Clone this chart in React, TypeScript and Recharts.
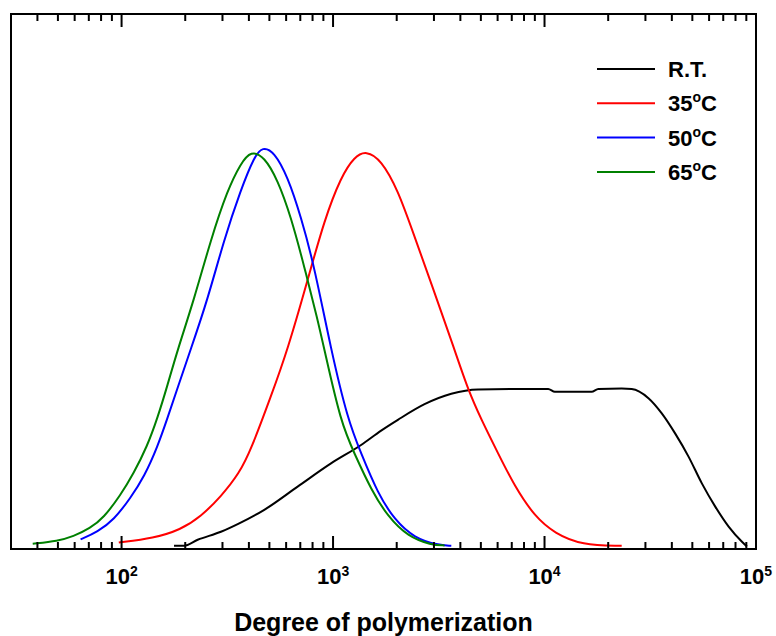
import React from 'react';
import { LineChart, Line, XAxis, YAxis, Legend, ReferenceArea, ReferenceLine } from 'recharts';

// GPC distributions vs. reaction temperature (degree of polymerization on log scale)
const rtCurve = [
  { dp: 177, w: 0.008 }, { dp: 197, w: 0.008 }, { dp: 229, w: 0.023 }, { dp: 295, w: 0.043 },
  { dp: 360, w: 0.064 }, { dp: 473, w: 0.098 }, { dp: 680, w: 0.156 }, { dp: 978, w: 0.214 },
  { dp: 1357, w: 0.26 }, { dp: 1688, w: 0.296 }, { dp: 2026, w: 0.323 }, { dp: 2708, w: 0.362 },
  { dp: 3624, w: 0.388 }, { dp: 4850, w: 0.399 }, { dp: 7232, w: 0.4 }, { dp: 10410, w: 0.4 },
  { dp: 11190, w: 0.393 }, { dp: 16700, w: 0.393 }, { dp: 17970, w: 0.4 }, { dp: 23170, w: 0.401 },
  { dp: 25840, w: 0.4 }, { dp: 31010, w: 0.377 }, { dp: 35850, w: 0.339 }, { dp: 41440, w: 0.289 },
  { dp: 47970, w: 0.231 }, { dp: 55460, w: 0.164 }, { dp: 64160, w: 0.106 }, { dp: 74240, w: 0.056 },
  { dp: 85830, w: 0.018 }, { dp: 90640, w: 0.006 },
];

const c35Curve = [
  { dp: 97, w: 0.016 }, { dp: 142, w: 0.027 }, { dp: 190, w: 0.048 }, { dp: 237, w: 0.081 },
  { dp: 295, w: 0.131 }, { dp: 360, w: 0.189 }, { dp: 409, w: 0.248 }, { dp: 508, w: 0.381 },
  { dp: 610, w: 0.498 }, { dp: 759, w: 0.673 }, { dp: 910, w: 0.823 }, { dp: 1091, w: 0.931 },
  { dp: 1262, w: 0.981 }, { dp: 1433, w: 0.996 }, { dp: 1688, w: 0.973 }, { dp: 2026, w: 0.898 },
  { dp: 2428, w: 0.781 }, { dp: 2913, w: 0.664 }, { dp: 3757, w: 0.498 }, { dp: 4349, w: 0.398 },
  { dp: 5027, w: 0.323 }, { dp: 6034, w: 0.239 }, { dp: 7232, w: 0.156 }, { dp: 8995, w: 0.081 },
  { dp: 11190, w: 0.039 }, { dp: 14980, w: 0.01 }, { dp: 23170, w: 0.008 },
];

const c50Curve = [
  { dp: 64, w: 0.024 }, { dp: 77, w: 0.043 }, { dp: 92, w: 0.073 }, { dp: 110, w: 0.127 },
  { dp: 128, w: 0.181 }, { dp: 148, w: 0.256 }, { dp: 165, w: 0.328 }, { dp: 184, w: 0.403 },
  { dp: 212, w: 0.498 }, { dp: 255, w: 0.623 }, { dp: 305, w: 0.773 }, { dp: 366, w: 0.898 },
  { dp: 424, w: 0.981 }, { dp: 464, w: 1.006 }, { dp: 527, w: 0.993 }, { dp: 610, w: 0.931 },
  { dp: 705, w: 0.831 }, { dp: 816, w: 0.706 }, { dp: 978, w: 0.498 }, { dp: 1174, w: 0.323 },
  { dp: 1357, w: 0.239 }, { dp: 1628, w: 0.139 }, { dp: 1952, w: 0.073 }, { dp: 2428, w: 0.027 },
  { dp: 3135, w: 0.01 }, { dp: 3624, w: 0.008 },
];

const c65Curve = [
  { dp: 38, w: 0.013 }, { dp: 50, w: 0.02 }, { dp: 59, w: 0.031 }, { dp: 71, w: 0.052 },
  { dp: 82, w: 0.077 }, { dp: 99, w: 0.135 }, { dp: 114, w: 0.189 }, { dp: 132, w: 0.256 },
  { dp: 148, w: 0.328 }, { dp: 165, w: 0.41 }, { dp: 184, w: 0.498 }, { dp: 220, w: 0.623 },
  { dp: 264, w: 0.773 }, { dp: 317, w: 0.898 }, { dp: 366, w: 0.964 }, { dp: 409, w: 0.996 },
  { dp: 473, w: 0.981 }, { dp: 547, w: 0.923 }, { dp: 632, w: 0.831 }, { dp: 731, w: 0.706 },
  { dp: 846, w: 0.573 }, { dp: 910, w: 0.498 }, { dp: 1091, w: 0.314 }, { dp: 1262, w: 0.239 },
  { dp: 1514, w: 0.148 }, { dp: 1816, w: 0.081 }, { dp: 2259, w: 0.031 }, { dp: 2913, w: 0.01 },
  { dp: 3369, w: 0.009 },
];

const seriesNames = ['R.T.', '35°C', '50°C', '65°C'];

const majorTicks = [100, 1000, 10000, 100000];
const majorLabels = ['2', '3', '4', '5'];
const minorTicks = [
  40, 50, 60, 70, 80, 90,
  200, 300, 400, 500, 600, 700, 800, 900,
  2000, 3000, 4000, 5000, 6000, 7000, 8000, 9000,
  20000, 30000, 40000, 50000, 60000, 70000, 80000, 90000,
];
const allTicks = [...minorTicks, ...majorTicks].sort((a, b) => a - b);

const xDomain = [30, 100000];
const yDomain = [0, 1.3375];

const FONT = '"Liberation Sans", Arial, sans-serif';

const tickLen = (v: number) => (majorTicks.includes(v) ? 13 : 7);

const BottomTick = (props: any) => {
  const { x, y, payload } = props;
  const idx = majorTicks.indexOf(payload.value);
  return (
    <g>
      <line x1={x} y1={y} x2={x} y2={y - tickLen(payload.value)} stroke="#000" strokeWidth={2} />
      {idx >= 0 && (
        <text x={x} y={y + 35} textAnchor="middle" fontFamily={FONT} fontWeight="bold" fontSize={22} fill="#000">
          10<tspan fontSize={14} dy={-8}>{majorLabels[idx]}</tspan>
        </text>
      )}
    </g>
  );
};

const LegendBox = (props: any) => {
  const items = [...(props.payload || [])].sort(
    (a: any, b: any) => seriesNames.indexOf(a.value) - seriesNames.indexOf(b.value)
  );
  return (
    <svg width={170} height={140} style={{ display: 'block' }}>
      {items.map((it: any, i: number) => {
        const cy = 19 + i * 34.3;
        const name: string = it.value;
        const m = name.match(/^(\d+)°C$/);
        return (
          <g key={name}>
            <line x1={9} y1={cy} x2={67} y2={cy} stroke={it.color} strokeWidth={2} />
            <text x={80} y={cy + 8} fontFamily={FONT} fontWeight="bold" fontSize={22} fill="#000">
              {m ? (
                <>
                  {m[1]}
                  <tspan fontSize={14} dy={-9}>o</tspan>
                  <tspan dy={9}>C</tspan>
                </>
              ) : (
                name
              )}
            </text>
          </g>
        );
      })}
    </svg>
  );
};

export default function App() {
  return (
    <div style={{ position: 'absolute', left: 0, top: 0, background: '#fff' }}>
      <LineChart width={776} height={636} margin={{ top: 14, right: 20, left: 11, bottom: 27 }}>
        <XAxis
          xAxisId="bottom"
          dataKey="dp"
          type="number"
          scale="log"
          domain={xDomain}
          allowDataOverflow
          ticks={allTicks}
          interval={0}
          height={60}
          tickSize={0}
          tickMargin={0}
          tickLine={false}
          axisLine={{ stroke: '#000', strokeWidth: 2 }}
          tick={<BottomTick />}
          label={(p: any) => {
            const vb = p.viewBox || { x: 11, y: 549, width: 744 };
            return (
              <text x={vb.x + vb.width / 2} y={vb.y + 82} textAnchor="middle" fontFamily={FONT} fontWeight="bold" fontSize={25} fill="#000">
                Degree of polymerization
              </text>
            );
          }}
        />
        <YAxis yAxisId="left" type="number" domain={yDomain} allowDataOverflow hide />
        <ReferenceArea
          xAxisId="bottom"
          yAxisId="left"
          x1={xDomain[0]}
          x2={xDomain[1]}
          y1={yDomain[0]}
          y2={yDomain[1]}
          fill="none"
          fillOpacity={0}
          stroke="#000"
          strokeWidth={2}
          ifOverflow="visible"
        />
        {allTicks.map((t) => (
          <ReferenceLine
            key={t}
            xAxisId="bottom"
            yAxisId="left"
            x={t}
            shape={(p: any) => {
              const top = Math.min(p.y1, p.y2);
              return <line x1={p.x1} y1={top} x2={p.x1} y2={top + tickLen(t)} stroke="#000" strokeWidth={2} />;
            }}
          />
        ))}
        <Legend
          layout="vertical"
          align="center"
          verticalAlign="middle"
          wrapperStyle={{ left: 588, top: 50, width: 170, height: 140 }}
          content={<LegendBox />}
        />
        <Line xAxisId="bottom" yAxisId="left" data={rtCurve} dataKey="w" name="R.T." type="monotone" stroke="#000000" strokeWidth={2} dot={false} isAnimationActive={false} />
        <Line xAxisId="bottom" yAxisId="left" data={c35Curve} dataKey="w" name="35°C" type="basis" stroke="#ff0000" strokeWidth={2} dot={false} isAnimationActive={false} />
        <Line xAxisId="bottom" yAxisId="left" data={c50Curve} dataKey="w" name="50°C" type="basis" stroke="#0000ff" strokeWidth={2} dot={false} isAnimationActive={false} />
        <Line xAxisId="bottom" yAxisId="left" data={c65Curve} dataKey="w" name="65°C" type="basis" stroke="#008000" strokeWidth={2} dot={false} isAnimationActive={false} />
      </LineChart>
    </div>
  );
}
